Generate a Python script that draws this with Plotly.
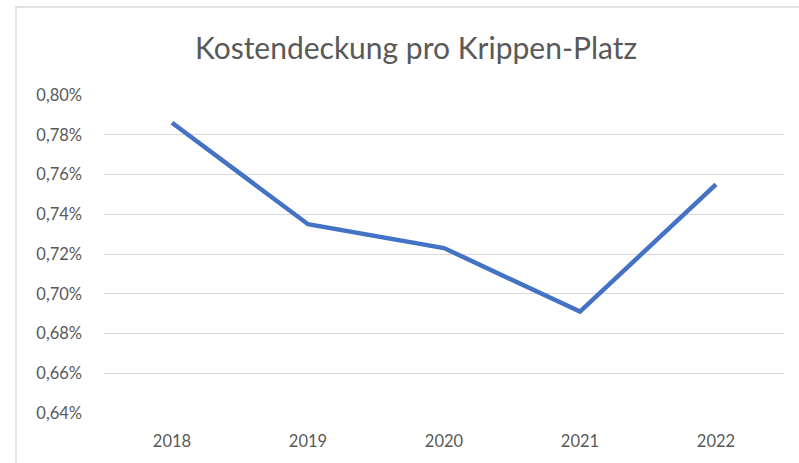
import plotly.graph_objects as go

years = ["2018", "2019", "2020", "2021", "2022"]
coverage = [0.00786, 0.00735, 0.00723, 0.00691, 0.00755]
title_text = "Kostendeckung pro Krippen-Platz"
y_ticks = [0.0064, 0.0066, 0.0068, 0.0070, 0.0072, 0.0074, 0.0076, 0.0078, 0.0080]

W, H = 799, 463
L, R, T, B = 104, 15, 95, 50
pw, ph = W - L - R, H - T - B

fig = go.Figure()
fig.add_trace(go.Scatter(
    x=years, y=coverage, mode="lines",
    line=dict(color="#4472C4", width=4.5),
    hoverinfo="x+y",
))

# outer chart border (light gray)
fig.add_shape(type="rect", xref="paper", yref="paper",
              x0=(16 - L) / pw, x1=(W + 20 - L) / pw,
              y0=(H - B - (H + 20)) / ph, y1=(H - B - 7) / ph,
              line=dict(color="#D9D9D9", width=1.5), fillcolor="rgba(0,0,0,0)",
              layer="below")

fig.update_layout(
    width=W, height=H,
    margin=dict(l=L, r=R, t=T, b=B),
    paper_bgcolor="white", plot_bgcolor="white",
    separators=",.",
    showlegend=False,
    font=dict(family="Lato, 'Open Sans', sans-serif", color="#595959"),
    title=dict(text=title_text, x=416 / W, xref="container", xanchor="center",
               y=1 - 48 / H, yref="container", yanchor="middle",
               font=dict(size=30, color="#595959", family="Lato, 'Open Sans', sans-serif")),
    xaxis=dict(type="category", range=[-0.5, 4.5], showgrid=False, zeroline=False,
               showline=False, ticks="", tickfont=dict(size=16.5, color="#595959"),
               ticklabelstandoff=16, fixedrange=True),
    yaxis=dict(range=[0.0064, 0.0080], tickvals=y_ticks, tickformat=".2%",
               showgrid=True, gridcolor="#D9D9D9", gridwidth=1, zeroline=False,
               showline=False, ticks="", tickfont=dict(size=16.5, color="#595959"),
               ticklabelstandoff=21, fixedrange=True),
)

fig.write_html("out.html", config={"displayModeBar": False},
               post_script="document.body.style.margin='0';document.body.style.overflow='hidden';")
